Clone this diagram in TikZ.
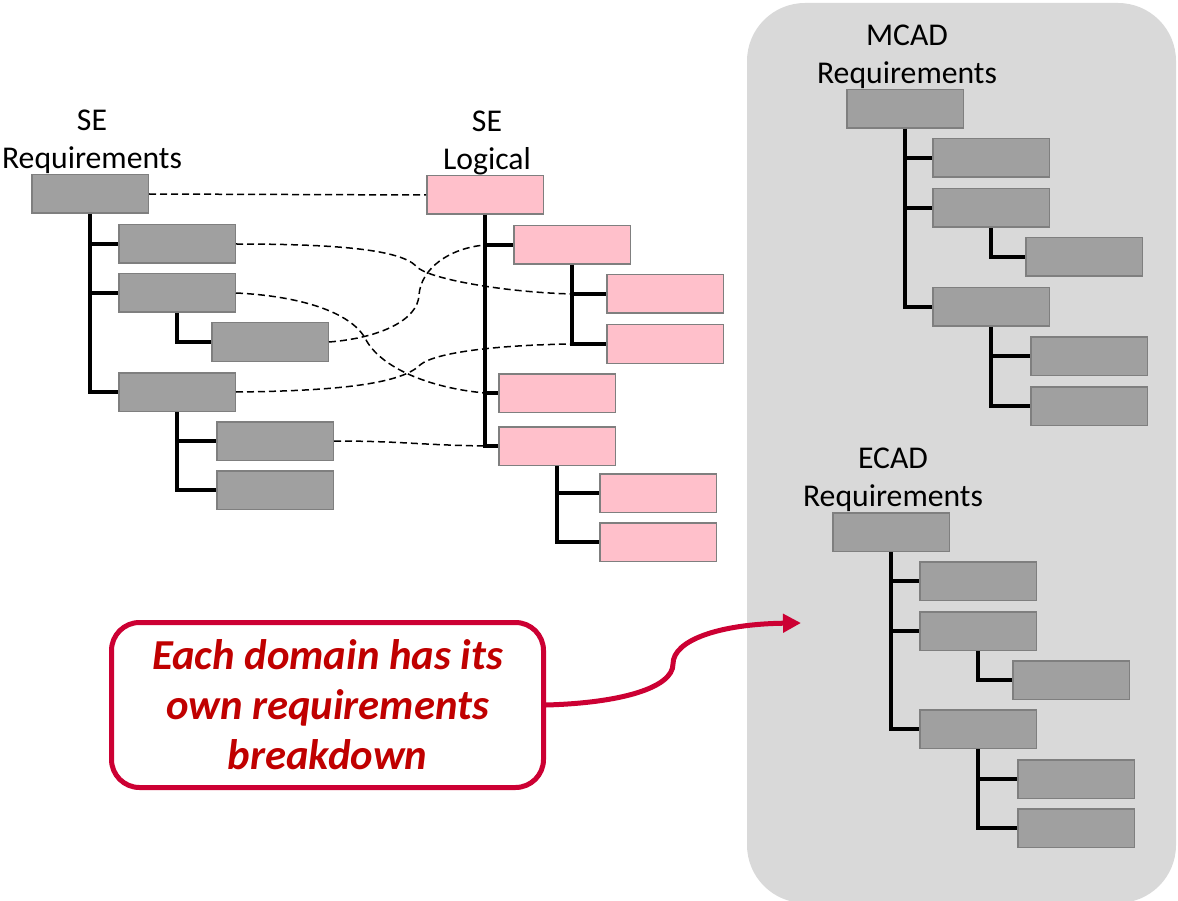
\documentclass[tikz,border=0pt]{standalone}
\usepackage{fontspec}
\setmainfont{Carlito}
\usetikzlibrary{arrows.meta,calc}
\definecolor{boxgray}{HTML}{A0A0A0}
\definecolor{boxline}{HTML}{7F7F7F}
\definecolor{boxpink}{HTML}{FFC0CB}
\definecolor{panelgray}{HTML}{D9D9D9}
\definecolor{crim}{HTML}{CC0033}
\definecolor{notetext}{HTML}{C00000}
\begin{document}
\begin{tikzpicture}[x=1pt,y=-1pt,
  gbox/.style={draw=boxline, fill=boxgray, line width=1.5pt, minimum width=116.5pt, minimum height=38.5pt, inner sep=0pt, anchor=north west},
  pbox/.style={gbox, fill=boxpink},
  tree/.style={line width=3.3pt, draw=black},
  link/.style={line width=1.5pt, draw=black, dash pattern=on 7pt off 4pt},
  lab/.style={anchor=south, inner sep=0pt, align=center, font=\fontsize{31.7}{38}\selectfont, xshift=2pt},
  notebox/.style={draw=crim, line width=5pt, rounded corners=28pt, minimum width=432pt, minimum height=165pt, fill=white, text=notetext, align=center, inner sep=0pt, font=\fontsize{42.7}{50}\selectfont\bfseries\itshape},
  arr/.style={draw=crim, line width=5pt, -{Triangle[length=18pt,width=18pt]}}
]
\useasboundingbox (0,0) rectangle (1178,901);
% domain panel
\path[fill=panelgray, rounded corners=58pt] (747,3) rectangle (1176,903);

% SE Requirements
\node[gbox] (R0) at (31,174) {};
\node[gbox] (R1) at (118,224) {};
\node[gbox] (R2) at (118,273) {};
\node[gbox] (R21) at (211,322) {};
\node[gbox] (R3) at (118,372) {};
\node[gbox] (R31) at (216,421) {};
\node[gbox] (R32) at (216,470) {};
\node[lab] (labR) at (R0.north) {SE\\Requirements};

% SE Logical
\node[pbox] (L0) at (426,175) {};
\node[pbox] (L1) at (513,225) {};
\node[pbox] (L11) at (606,274) {};
\node[pbox] (L12) at (606,324) {};
\node[pbox] (L2) at (498,373) {};
\node[pbox] (L3) at (498,426) {};
\node[pbox] (L31) at (599,473) {};
\node[pbox] (L32) at (599,522) {};
\node[lab] (labL) at (L0.north) {SE\\Logical};

% MCAD
\node[gbox] (M0) at (846,89) {};
\node[gbox] (M1) at (932,138) {};
\node[gbox] (M2) at (932,188) {};
\node[gbox] (M21) at (1025,237) {};
\node[gbox] (M3) at (932,287) {};
\node[gbox] (M31) at (1030,336) {};
\node[gbox] (M32) at (1030,386) {};
\node[lab] (labM) at (M0.north) {MCAD\\Requirements};

% ECAD
\node[gbox] (E0) at (832,512) {};
\node[gbox] (E1) at (919,561) {};
\node[gbox] (E2) at (919,611) {};
\node[gbox] (E21) at (1012,660) {};
\node[gbox] (E3) at (919,709) {};
\node[gbox] (E31) at (1017,759) {};
\node[gbox] (E32) at (1017,808) {};
\node[lab] (labE) at (E0.north) {ECAD\\Requirements};

% trace links
\draw[link] (R0.east) -- (L0.west);
\draw[link] (R1.east) .. controls (340,244) and (400,250) .. (416,266)
  .. controls (425,278) and (500,292) .. ($(L1.south |- L11.west)$);
\draw[link] (R2.east) .. controls (300,296) and (350,312) .. (365,338)
  .. controls (380,368) and (430,388) .. ($(L0.south |- L2.west)$);
\draw[link] (R21.east) .. controls (380,338) and (418,320) .. (419,295)
  .. controls (421,268) and (450,248) .. ($(L0.south |- L1.west)$);
\draw[link] (R3.east) .. controls (330,391) and (400,385) .. (420,365)
  .. controls (435,352) and (500,345) .. ($(L1.south |- L12.west)$);
\draw[link] (R31.east) .. controls (400,441) and (420,445) .. ($(L0.south |- L3.west)$);

% tree lines
\foreach \p/\c in {R0/R1,R0/R2,R0/R3,R2/R21,R3/R31,R3/R32,
                   L0/L1,L0/L2,L0/L3,L1/L11,L1/L12,L3/L31,L3/L32,
                   M0/M1,M0/M2,M0/M3,M2/M21,M3/M31,M3/M32,
                   E0/E1,E0/E2,E0/E3,E2/E21,E3/E31,E3/E32}
  \draw[tree] (\p.south) |- (\c.west);

% callout
\node[notebox] (note) at (327.5,705) {Each domain has its\\own requirements\\breakdown};
\coordinate (tgt) at (801,623);
\draw[arr] (note.east) .. controls (620,703) and (673,688) .. (673,664)
  .. controls (673,640) and (720,624) .. (tgt);
\end{tikzpicture}
\end{document}
